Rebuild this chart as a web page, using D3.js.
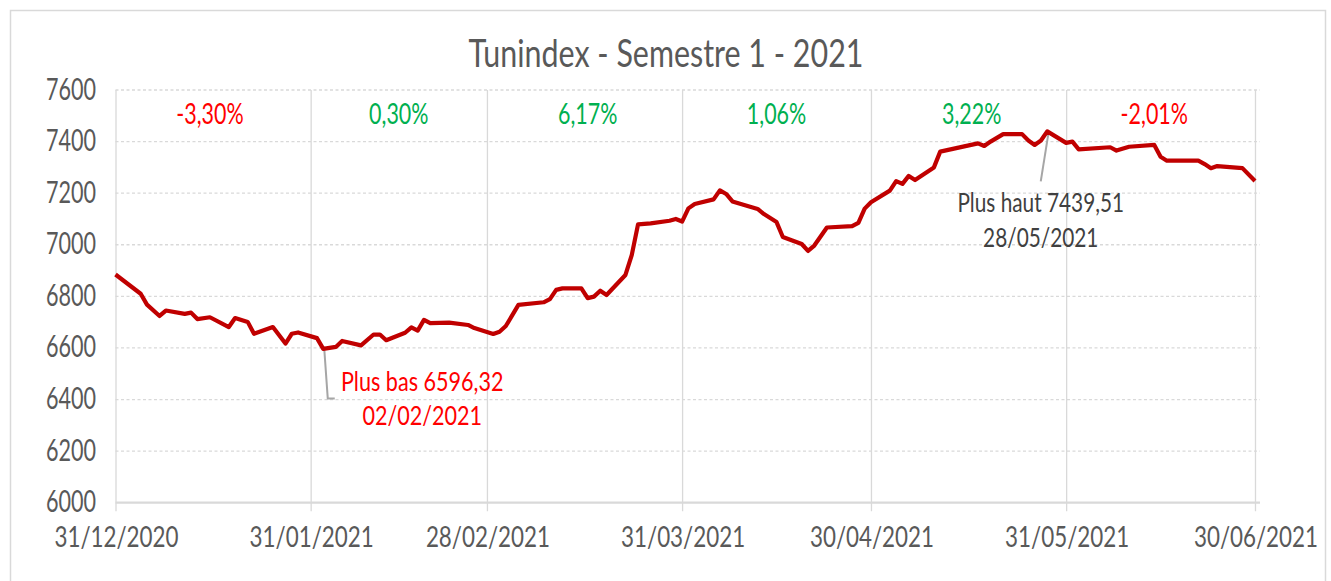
<!DOCTYPE html>
<html>
<head>
<meta charset="utf-8">
<script src="https://cdn.jsdelivr.net/npm/d3@7"></script>
<style>
  html, body { margin: 0; padding: 0; background: #ffffff; }
  svg { display: block; }
  text { font-family: Lato, "Noto Sans", sans-serif; font-weight: 400; }
</style>
</head>
<body>
<svg id="chart" width="1331" height="581"></svg>
<script>
// ---------------- DATA ----------------
const chartTitle = "Tunindex - Semestre 1 - 2021";

const dates = [
  "2020-12-31","2021-01-04","2021-01-05","2021-01-07","2021-01-08","2021-01-11","2021-01-12","2021-01-13",
  "2021-01-15","2021-01-18","2021-01-19","2021-01-21","2021-01-22","2021-01-25","2021-01-27","2021-01-28",
  "2021-01-29","2021-02-01","2021-02-02","2021-02-04","2021-02-05","2021-02-08","2021-02-10","2021-02-11",
  "2021-02-12","2021-02-15","2021-02-16","2021-02-17","2021-02-18","2021-02-19","2021-02-22","2021-02-25",
  "2021-02-26","2021-03-01","2021-03-02","2021-03-03","2021-03-05","2021-03-09","2021-03-10","2021-03-11",
  "2021-03-12","2021-03-15","2021-03-16","2021-03-17","2021-03-18","2021-03-19","2021-03-22","2021-03-23",
  "2021-03-24","2021-03-26","2021-03-29","2021-03-30","2021-03-31","2021-04-01","2021-04-02","2021-04-05",
  "2021-04-06","2021-04-07","2021-04-08","2021-04-12","2021-04-13","2021-04-15","2021-04-16","2021-04-19",
  "2021-04-20","2021-04-21","2021-04-23","2021-04-27","2021-04-28","2021-04-29","2021-04-30","2021-05-03",
  "2021-05-04","2021-05-05","2021-05-06","2021-05-07","2021-05-10","2021-05-11","2021-05-17","2021-05-18",
  "2021-05-19","2021-05-21","2021-05-24","2021-05-25","2021-05-26","2021-05-27","2021-05-28","2021-05-31",
  "2021-06-01","2021-06-02","2021-06-07","2021-06-08","2021-06-10","2021-06-14","2021-06-15","2021-06-16",
  "2021-06-21","2021-06-22","2021-06-23","2021-06-24","2021-06-28","2021-06-30"
];
const values = [
  6884.66,6810,6768,6724,6745,6732,6737,6712,
  6719,6681,6716,6701,6655,6681,6617,6655,
  6660,6638,6596.32,6604,6627,6610,6652,6652,
  6630,6659,6680,6667,6709,6696,6698,6689,
  6677,6654,6663,6685,6767,6777,6789,6825,
  6831,6831,6793,6799,6822,6805,6883,6960,
  7079,7083,7093,7100,7090,7141,7158,7176,
  7211,7197,7168,7139,7119,7088,7030,7003,
  6976,6997,7067,7072,7085,7140,7165,7210,
  7247,7236,7267,7251,7300,7361,7393,7383,
  7400,7429,7429,7404,7387,7404,7439.51,7395,
  7400,7370,7378,7365,7380,7387,7341,7326,
  7326,7313,7297,7305,7297,7247
];

const yTicks = [6000, 6200, 6400, 6600, 6800, 7000, 7200, 7400, 7600];
const xTickDates = ["2020-12-31","2021-01-31","2021-02-28","2021-03-31","2021-04-30","2021-05-31","2021-06-30"];
const xTickLabels = ["31/12/2020","31/01/2021","28/02/2021","31/03/2021","30/04/2021","31/05/2021","30/06/2021"];

const periodChanges = ["-3,30%","0,30%","6,17%","1,06%","3,22%","-2,01%"];
const periodLabelDates = ["2021-01-15","2021-02-14","2021-03-16","2021-04-15","2021-05-16","2021-06-14"];

const lowPoint = { date: "2021-02-02", value: 6596.32, lines: ["Plus bas 6596,32", "02/02/2021"] };
const highPoint = { date: "2021-05-28", value: 7439.51, lines: ["Plus haut 7439,51", "28/05/2021"] };

// ---------------- CHART ----------------
const parse = d3.timeParse("%Y-%m-%d");
const svg = d3.select("#chart");

const plot = { left: 115.5, right: 1255, top: 90, bottom: 502.7 };

const x = d3.scaleTime()
  .domain([parse(xTickDates[0]), parse(xTickDates[xTickDates.length - 1])])
  .range([plot.left, plot.right]);
const y = d3.scaleLinear()
  .domain([6000, 7600])
  .range([plot.bottom, plot.top]);

const gridColor = "#d9d9d9";
const textGray = "#595959";

// outer border
svg.append("rect")
  .attr("x", 10.5).attr("y", 10.5)
  .attr("width", 1315).attr("height", 620)
  .attr("fill", "none").attr("stroke", gridColor).attr("stroke-width", 1.5);

// helper for horizontally condensed text (Futura-like proportions)
function addText(parent, tx, ty, str, opts) {
  return parent.append("text")
    .attr("transform", `translate(${tx},${ty}) scale(${opts.sx},1)`)
    .attr("text-anchor", opts.anchor || "middle")
    .attr("font-size", opts.size)
    .attr("fill", opts.fill)
    .text(str);
}

// horizontal dashed gridlines (y axis)
const yAxis = d3.axisLeft(y).tickValues(yTicks).tickSize(0).tickFormat("");
svg.append("g").attr("transform", `translate(${plot.left},0)`).call(yAxis)
  .call(g => g.select(".domain").remove());

svg.append("g").selectAll("line")
  .data(yTicks.filter(v => v !== 6000))
  .join("line")
  .attr("x1", plot.left).attr("x2", plot.right + 5)
  .attr("y1", d => y(d)).attr("y2", d => y(d))
  .attr("stroke", gridColor).attr("stroke-width", 1.3)
  .attr("stroke-dasharray", "3,2.5");

// vertical gridlines at month ends (x axis ticks extend below axis)
const xAxis = d3.axisBottom(x)
  .tickValues(xTickDates.map(parse))
  .tickSize(-(plot.bottom - plot.top))
  .tickSizeOuter(0)
  .tickFormat("");
const xg = svg.append("g").attr("transform", `translate(0,${plot.bottom})`).call(xAxis);
xg.select(".domain").remove();
xg.selectAll(".tick line")
  .attr("stroke", gridColor).attr("stroke-width", 1.3)
  .attr("y1", 8.5);

// bottom axis line
svg.append("line")
  .attr("x1", plot.left).attr("x2", plot.right + 5)
  .attr("y1", plot.bottom).attr("y2", plot.bottom)
  .attr("stroke", gridColor).attr("stroke-width", 2.2);

// y tick labels
yTicks.forEach(v => {
  addText(svg, 96, y(v) + 9.5, String(v), { size: 30, sx: 0.72, fill: textGray, anchor: "end" });
});

// x tick labels
xTickDates.forEach((d, i) => {
  addText(svg, x(parse(d)) + 1, 547.3, xTickLabels[i], { size: 28, sx: 0.8, fill: textGray });
});

// title
addText(svg, 666, 66.7, chartTitle, { size: 39.5, sx: 0.77, fill: textGray });

// period change labels
periodChanges.forEach((s, i) => {
  const neg = s.trim().startsWith("-");
  addText(svg, x(parse(periodLabelDates[i])), 124, s,
    { size: 29, sx: 0.74, fill: neg ? "#ff0000" : "#00b050" });
});

// leader lines (drawn before the series)
const lx = x(parse(lowPoint.date)), ly = y(lowPoint.value);
svg.append("path")
  .attr("d", d3.line()([[lx + 1, ly], [lx + 4.5, ly + 49.5], [lx + 11.5, ly + 49.5]]))
  .attr("fill", "none").attr("stroke", "#a6a6a6").attr("stroke-width", 2);

const hx = x(parse(highPoint.date)), hy = y(highPoint.value);
svg.append("line")
  .attr("x1", hx + 1.5).attr("y1", hy)
  .attr("x2", hx - 6.5).attr("y2", hy + 50)
  .attr("stroke", "#a6a6a6").attr("stroke-width", 2);

// series line
const series = dates.map((d, i) => ({ date: parse(d), value: values[i] }));
svg.append("path")
  .datum(series)
  .attr("fill", "none")
  .attr("stroke", "#c00000")
  .attr("stroke-width", 4.2)
  .attr("stroke-linejoin", "round")
  .attr("d", d3.line().x(d => x(d.date)).y(d => y(d.value)));

// annotation labels
lowPoint.lines.forEach((s, i) => {
  addText(svg, lx + 99, ly + 42.4 + i * 33.3, s, { size: 27, sx: 0.8, fill: "#ff0000" });
});
highPoint.lines.forEach((s, i) => {
  addText(svg, hx - 6.5, hy + 81 + i * 34.4, s, { size: 26, sx: 0.8, fill: "#404040" });
});
</script>
</body>
</html>
